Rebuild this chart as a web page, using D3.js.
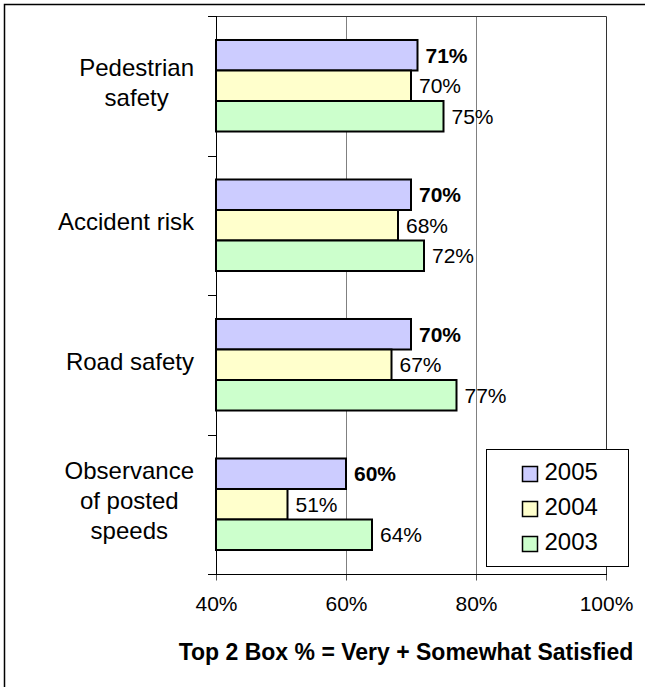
<!DOCTYPE html>
<html>
<head>
  <style>
    body{
      margin:0;
      background:#fff;
      font-family: "Liberation Sans", Arial, sans-serif;
    }
    .grid line{
      stroke:#808080;
    }
    .value-label{
      font-size:21px;
    }
    .cat-label{
      font-size:24px;
    }
    .tick-label{
      font-size:21px;
    }
  </style>
  <script src="https://d3js.org/d3.v7.min.js"></script>
</head>
<body>
<div class="chart"></div>
<script>
const categories = ['Pedestrian safety', 'Accident risk', 'Road safety', 'Observance of posted speeds'];
const categoryLines = [['Pedestrian', 'safety'], ['Accident risk'], ['Road safety'], ['Observance', 'of posted', 'speeds']];
const seriesNames = ['2005', '2004', '2003'];
const values2005 = [0.71, 0.70, 0.70, 0.60];
const values2004 = [0.70, 0.68, 0.67, 0.51];
const values2003 = [0.75, 0.72, 0.77, 0.64];
const xTicks = [0.4, 0.6, 0.8, 1.0];
const seriesColours = ['#ccccff', '#ffffcc', '#ccffcc'];
const footnote = 'Top 2 Box % = Very + Somewhat Satisfied';

const width = 645;
const height = 687;
const seriesValues = [values2005, values2004, values2003];

const svg = d3.select('.chart')
  .append('svg')
  .attr('width', width)
  .attr('height', height);

// outer chart border (only left/top visible in the frame)
svg.append('rect')
  .attr('x', 4.5).attr('y', 4.5)
  .attr('width', 700).attr('height', 700)
  .attr('fill', 'none')
  .attr('stroke', '#000')
  .attr('stroke-width', 1.5);

const x = d3.scaleLinear()
  .domain([0.4, 1.0])
  .range([216, 606]);

const y = d3.scaleBand()
  .domain(categories)
  .range([16, 574])
  .paddingInner(0.344)
  .paddingOuter(0.172);

const ySeries = d3.scaleBand()
  .domain(seriesNames)
  .range([0, y.bandwidth()]);

const colour = d3.scaleOrdinal()
  .domain(seriesNames)
  .range(seriesColours);

// gridlines
svg.append('g')
  .attr('class', 'grid')
  .selectAll('line')
  .data(xTicks.slice(1, -1))
  .join('line')
    .attr('x1', d => x(d) + 0.5)
    .attr('x2', d => x(d) + 0.5)
    .attr('y1', 16)
    .attr('y2', 574);

// plot area top + right border
svg.append('path')
  .attr('d', `M208,16.5H${x(1) + 0.5}V574`)
  .attr('fill', 'none')
  .attr('stroke', '#333');

// bars
const groups = svg.append('g')
  .selectAll('g')
  .data(categories)
  .join('g')
    .attr('transform', d => `translate(0,${y(d)})`);

seriesNames.forEach((name, si) => {
  groups.append('rect')
    .attr('x', x(0.4))
    .attr('y', ySeries(name))
    .attr('width', (d, i) => x(seriesValues[si][i]) - x(0.4))
    .attr('height', ySeries.bandwidth())
    .attr('fill', colour(name))
    .attr('stroke', '#000')
    .attr('stroke-width', 2);

  groups.append('text')
    .attr('class', 'value-label')
    .attr('x', (d, i) => x(seriesValues[si][i]) + 8)
    .attr('y', ySeries(name) + ySeries.bandwidth() / 2 + 7.5)
    .attr('font-weight', si === 0 ? 'bold' : 'normal')
    .text((d, i) => d3.format('.0%')(seriesValues[si][i]));
});

// category axis
const boundaries = categories.map(c => y(c) - y.step() * y.paddingInner() / 2).concat([574]);
svg.append('line')
  .attr('x1', 216.5).attr('x2', 216.5)
  .attr('y1', 16).attr('y2', 574)
  .attr('stroke', '#000');
svg.append('g')
  .selectAll('line')
  .data(boundaries)
  .join('line')
    .attr('x1', 208).attr('x2', 216)
    .attr('y1', d => Math.round(d) + 0.5)
    .attr('y2', d => Math.round(d) + 0.5)
    .attr('stroke', '#000');

// category labels: lines centred in a block whose right edge is fixed
categories.forEach((c, i) => {
  const lines = categoryLines[i];
  const centre = y(c) + y.bandwidth() / 2 - 3.5;
  const g = svg.append('g');
  const texts = g.selectAll('text')
    .data(lines)
    .join('text')
      .attr('class', 'cat-label')
      .attr('text-anchor', 'middle')
      .attr('y', (d, li) => centre + (li - (lines.length - 1) / 2) * 30 + 8.5)
      .text(d => d);
  const blockWidth = d3.max(texts.nodes(), n => n.getComputedTextLength());
  texts.attr('x', 194 - blockWidth / 2);
});

// value axis
const xAxis = svg.append('g')
  .attr('transform', 'translate(0,574.5)')
  .call(d3.axisBottom(x)
    .tickValues(xTicks)
    .tickSize(6)
    .tickSizeOuter(0)
    .tickFormat(d3.format('.0%')));
xAxis.select('.domain').remove();
xAxis.selectAll('.tick line').attr('stroke', '#555');
xAxis.selectAll('.tick text')
  .attr('class', 'tick-label')
  .attr('font-family', null)
  .attr('font-size', null)
  .attr('fill', '#000')
  .attr('dy', null)
  .attr('y', 36);
svg.append('line')
  .attr('x1', 208).attr('x2', x(1) + 1)
  .attr('y1', 574.5).attr('y2', 574.5)
  .attr('stroke', '#000');

// legend
const legend = svg.append('g').attr('transform', 'translate(486.5,449.5)');
legend.append('rect')
  .attr('width', 142)
  .attr('height', 117)
  .attr('fill', '#fff')
  .attr('stroke', '#000');
const items = legend.selectAll('g.item')
  .data(seriesNames)
  .join('g')
    .attr('class', 'item')
    .attr('transform', (d, i) => `translate(36,${17 + i * 35})`);
items.append('rect')
  .attr('width', 15)
  .attr('height', 15)
  .attr('fill', d => colour(d))
  .attr('stroke', '#000')
  .attr('stroke-width', 1.5);
items.append('text')
  .attr('x', 22)
  .attr('y', 13)
  .attr('font-size', '24px')
  .text(d => d);

// footnote
svg.append('text')
  .attr('x', 406)
  .attr('y', 660)
  .attr('text-anchor', 'middle')
  .attr('font-weight', 'bold')
  .attr('font-size', '23px')
  .text(footnote);
</script>
</body>
</html>
